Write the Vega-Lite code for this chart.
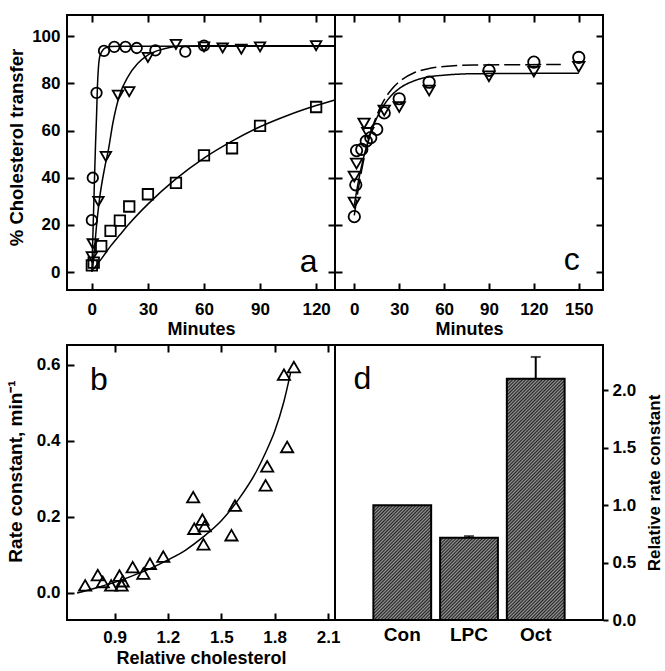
{
  "$schema": "https://vega.github.io/schema/vega-lite/v6.json",
  "background": "white",
  "padding": {"left": 5, "top": 13, "right": 5, "bottom": 5},
  "config": {
    "font": "Liberation Sans",
    "view": {"stroke": "black", "strokeWidth": 2},
    "axis": {"grid": false, "domain": false, "labelFont": "Liberation Sans", "labelFontSize": 17, "labelFontWeight": "bold", "labelColor": "black", "titleFont": "Liberation Sans", "titleFontSize": 18, "titleFontWeight": "bold", "titleColor": "black", "tickColor": "black", "tickWidth": 2, "labelFlush": false, "labelOverlap": false}
  },
  "datasets": {
    "aPts": [
      {"t": 0, "v": 22, "s": "A"}, {"t": 0.5, "v": 40, "s": "A"}, {"t": 2.5, "v": 76, "s": "A"}, {"t": 6.5, "v": 93.8, "s": "A"}, {"t": 12, "v": 95.5, "s": "A"}, {"t": 18, "v": 95.5, "s": "A"}, {"t": 24, "v": 95, "s": "A"}, {"t": 34, "v": 94, "s": "A"}, {"t": 50, "v": 93.5, "s": "A"}, {"t": 60, "v": 96, "s": "A"},
      {"t": 0, "v": 6.5, "s": "B"}, {"t": 0.5, "v": 12, "s": "B"}, {"t": 3.5, "v": 30, "s": "B"}, {"t": 7.5, "v": 49, "s": "B"}, {"t": 14, "v": 75, "s": "B"}, {"t": 20, "v": 76.5, "s": "B"}, {"t": 30, "v": 91, "s": "B"}, {"t": 45, "v": 96.5, "s": "B"}, {"t": 60, "v": 95.5, "s": "B"}, {"t": 70, "v": 95, "s": "B"}, {"t": 80, "v": 94.5, "s": "B"}, {"t": 90, "v": 95.5, "s": "B"}, {"t": 120, "v": 96, "s": "B"},
      {"t": 0, "v": 2.8, "s": "C"}, {"t": 1, "v": 4, "s": "C"}, {"t": 5, "v": 11, "s": "C"}, {"t": 10, "v": 17.5, "s": "C"}, {"t": 15, "v": 21.8, "s": "C"}, {"t": 20, "v": 27.8, "s": "C"}, {"t": 30, "v": 33, "s": "C"}, {"t": 45, "v": 37.8, "s": "C"}, {"t": 60, "v": 49.5, "s": "C"}, {"t": 75, "v": 52.5, "s": "C"}, {"t": 90, "v": 62, "s": "C"}, {"t": 120, "v": 70, "s": "C"}
    ],
    "aFit": [
      {"t": 0, "v": 0, "s": "A"}, {"t": 0.5, "v": 14, "s": "A"}, {"t": 1, "v": 28, "s": "A"}, {"t": 1.5, "v": 42, "s": "A"}, {"t": 2, "v": 55, "s": "A"}, {"t": 2.5, "v": 66, "s": "A"}, {"t": 3, "v": 79, "s": "A"}, {"t": 3.5, "v": 86.5, "s": "A"}, {"t": 4, "v": 90.5, "s": "A"}, {"t": 5, "v": 93, "s": "A"}, {"t": 6, "v": 94.3, "s": "A"}, {"t": 8, "v": 95.3, "s": "A"}, {"t": 10, "v": 95.6, "s": "A"}, {"t": 15, "v": 95.8, "s": "A"}, {"t": 130, "v": 95.8, "s": "A"},
      {"t": 0.5, "v": 2, "s": "B"}, {"t": 2.3, "v": 18, "s": "B"}, {"t": 4.1, "v": 31, "s": "B"}, {"t": 6.8, "v": 44, "s": "B"}, {"t": 8.9, "v": 52, "s": "B"}, {"t": 11.2, "v": 63, "s": "B"}, {"t": 14.8, "v": 75, "s": "B"}, {"t": 19.2, "v": 82.7, "s": "B"}, {"t": 24.5, "v": 88.4, "s": "B"}, {"t": 29.9, "v": 92, "s": "B"}, {"t": 38.8, "v": 94.7, "s": "B"}, {"t": 46, "v": 95.8, "s": "B"}, {"t": 60, "v": 96, "s": "B"}, {"t": 130, "v": 96, "s": "B"},
      {"t": 0, "v": 0.5, "s": "C"}, {"t": 5, "v": 5.5, "s": "C"}, {"t": 10, "v": 11, "s": "C"}, {"t": 15, "v": 15.8, "s": "C"}, {"t": 20, "v": 20.5, "s": "C"}, {"t": 30, "v": 28.8, "s": "C"}, {"t": 45, "v": 39.5, "s": "C"}, {"t": 60, "v": 48.3, "s": "C"}, {"t": 75, "v": 55.5, "s": "C"}, {"t": 90, "v": 61.6, "s": "C"}, {"t": 105, "v": 66.5, "s": "C"}, {"t": 120, "v": 70.6, "s": "C"}, {"t": 130, "v": 73, "s": "C"}
    ],
    "cPts": [
      {"t": 0, "v": 23.5, "s": "A"}, {"t": 1, "v": 37, "s": "A"}, {"t": 1.5, "v": 51.5, "s": "A"}, {"t": 5, "v": 52, "s": "A"}, {"t": 8, "v": 55.5, "s": "A"}, {"t": 11, "v": 57, "s": "A"}, {"t": 15, "v": 60.5, "s": "A"}, {"t": 20, "v": 67.5, "s": "A"}, {"t": 30, "v": 73.5, "s": "A"}, {"t": 50, "v": 80.5, "s": "A"}, {"t": 90, "v": 85.5, "s": "A"}, {"t": 120, "v": 89, "s": "A"}, {"t": 150, "v": 91, "s": "A"},
      {"t": 0, "v": 29.5, "s": "B"}, {"t": 0, "v": 40.5, "s": "B"}, {"t": 1.5, "v": 46, "s": "B"}, {"t": 6.5, "v": 63, "s": "B"}, {"t": 9, "v": 59, "s": "B"}, {"t": 20, "v": 68.5, "s": "B"}, {"t": 30, "v": 70, "s": "B"}, {"t": 50, "v": 77, "s": "B"}, {"t": 90, "v": 83, "s": "B"}, {"t": 120, "v": 85, "s": "B"}, {"t": 150, "v": 87, "s": "B"}
    ],
    "cFit": [
      {"t": 0, "v": 28.4, "s": "solid"}, {"t": 2, "v": 35.9, "s": "solid"}, {"t": 4, "v": 42.4, "s": "solid"}, {"t": 6, "v": 48, "s": "solid"}, {"t": 8, "v": 52.8, "s": "solid"}, {"t": 10, "v": 57, "s": "solid"}, {"t": 12, "v": 60.7, "s": "solid"}, {"t": 15, "v": 65.3, "s": "solid"}, {"t": 20, "v": 71, "s": "solid"}, {"t": 25, "v": 75, "s": "solid"}, {"t": 30, "v": 77.8, "s": "solid"}, {"t": 40, "v": 81.1, "s": "solid"}, {"t": 50, "v": 82.8, "s": "solid"}, {"t": 60, "v": 83.5, "s": "solid"}, {"t": 80, "v": 84.1, "s": "solid"}, {"t": 150, "v": 84.3, "s": "solid"},
      {"t": 0, "v": 24, "s": "dashed"}, {"t": 2, "v": 32.6, "s": "dashed"}, {"t": 4, "v": 40.1, "s": "dashed"}, {"t": 6, "v": 46.6, "s": "dashed"}, {"t": 8, "v": 52.2, "s": "dashed"}, {"t": 10, "v": 57, "s": "dashed"}, {"t": 12, "v": 61.2, "s": "dashed"}, {"t": 15, "v": 66.4, "s": "dashed"}, {"t": 20, "v": 73, "s": "dashed"}, {"t": 25, "v": 77.5, "s": "dashed"}, {"t": 30, "v": 80.7, "s": "dashed"}, {"t": 40, "v": 84.5, "s": "dashed"}, {"t": 50, "v": 86.3, "s": "dashed"}, {"t": 60, "v": 87.2, "s": "dashed"}, {"t": 80, "v": 87.8, "s": "dashed"}, {"t": 138, "v": 88, "s": "dashed"}
    ],
    "bPts": [
      {"x": 0.735, "k": 0.02}, {"x": 0.806, "k": 0.047}, {"x": 0.834, "k": 0.029}, {"x": 0.881, "k": 0.02}, {"x": 0.928, "k": 0.046}, {"x": 0.946, "k": 0.031}, {"x": 0.94, "k": 0.02}, {"x": 1.002, "k": 0.068}, {"x": 1.062, "k": 0.051}, {"x": 1.099, "k": 0.077}, {"x": 1.174, "k": 0.096}, {"x": 1.342, "k": 0.252}, {"x": 1.348, "k": 0.169}, {"x": 1.394, "k": 0.193}, {"x": 1.407, "k": 0.176}, {"x": 1.4, "k": 0.128}, {"x": 1.557, "k": 0.152}, {"x": 1.577, "k": 0.23}, {"x": 1.749, "k": 0.283}, {"x": 1.758, "k": 0.333}, {"x": 1.87, "k": 0.384}, {"x": 1.852, "k": 0.574}, {"x": 1.908, "k": 0.594}
    ],
    "bFit": [
      {"x": 0.69, "k": 0.0}, {"x": 0.8, "k": 0.014}, {"x": 0.9, "k": 0.028}, {"x": 1.0, "k": 0.045}, {"x": 1.1, "k": 0.064}, {"x": 1.2, "k": 0.087}, {"x": 1.3, "k": 0.113}, {"x": 1.4, "k": 0.148}, {"x": 1.5, "k": 0.19}, {"x": 1.6, "k": 0.248}, {"x": 1.7, "k": 0.322}, {"x": 1.75, "k": 0.37}, {"x": 1.8, "k": 0.425}, {"x": 1.85, "k": 0.5}, {"x": 1.89, "k": 0.58}
    ],
    "dBars": [
      {"cond": "Con", "rel": 1.0}, {"cond": "LPC", "rel": 0.715}, {"cond": "Oct", "rel": 2.1}
    ],
    "dErr": [
      {"cond": "LPC", "rel": 0.715, "hi": 0.73}, {"cond": "Oct", "rel": 2.1, "hi": 2.29}
    ]
  },
  "columns": 2,
  "bounds": "flush",
  "spacing": {"row": 55, "column": 0},
  "concat": [
    {
      "width": 268,
      "height": 275,
      "resolve": {"axis": {"x": "independent", "y": "independent"}},
      "layer": [
        {
          "data": {"name": "aPts"},
          "mark": {"type": "point", "filled": false, "color": "black", "strokeWidth": 1.8, "size": 110, "opacity": 1},
          "encoding": {
            "x": {"field": "t", "type": "quantitative", "scale": {"domain": [-13.3, 130.1], "nice": false, "zero": false}, "axis": {"orient": "bottom", "values": [0, 30, 60, 90, 120], "tickSize": -7, "labelPadding": 18, "title": "Minutes", "titlePadding": 3}},
            "y": {"field": "v", "type": "quantitative", "scale": {"domain": [-7.6, 109], "nice": false, "zero": false}, "axis": {"orient": "left", "values": [0, 20, 40, 60, 80, 100], "tickSize": -7, "labelPadding": 14, "title": "% Cholesterol transfer", "titleFontSize": 18.5, "titlePadding": 5, "titleY": 132}},
            "shape": {"field": "s", "type": "nominal", "scale": {"domain": ["A", "B", "C"], "range": ["circle", "triangle-down", "square"]}, "legend": null}
          }
        },
        {
          "data": {"name": "aFit"},
          "mark": {"type": "line", "color": "black", "strokeWidth": 1.5, "interpolate": "monotone", "clip": true},
          "encoding": {
            "x": {"field": "t", "type": "quantitative", "scale": {"domain": [-13.3, 130.1], "nice": false, "zero": false}, "axis": {"orient": "top", "values": [0, 30, 60, 90, 120], "tickSize": -7, "labels": false, "title": null}},
            "y": {"field": "v", "type": "quantitative", "scale": {"domain": [-7.6, 109], "nice": false, "zero": false}, "axis": {"orient": "right", "values": [0, 20, 40, 60, 80, 100], "tickSize": -7, "labels": false, "title": null}},
            "detail": {"field": "s", "type": "nominal"}
          }
        },
        {
          "data": {"values": [{"t": 116, "v": 0, "label": "a"}]},
          "mark": {"type": "text", "fontSize": 32, "font": "Liberation Sans", "baseline": "alphabetic", "align": "center", "color": "black"},
          "encoding": {
            "x": {"field": "t", "type": "quantitative", "scale": {"domain": [-13.3, 130.1], "nice": false, "zero": false}, "axis": null},
            "y": {"field": "v", "type": "quantitative", "scale": {"domain": [-7.6, 109], "nice": false, "zero": false}, "axis": null},
            "text": {"field": "label"}
          }
        }
      ]
    },
    {
      "width": 268,
      "height": 275,
      "resolve": {"axis": {"x": "independent", "y": "independent"}},
      "layer": [
        {
          "data": {"name": "cPts"},
          "mark": {"type": "point", "filled": false, "color": "black", "strokeWidth": 1.8, "size": 130, "opacity": 1},
          "encoding": {
            "x": {"field": "t", "type": "quantitative", "scale": {"domain": [-12.9, 166.2], "nice": false, "zero": false}, "axis": {"orient": "bottom", "values": [0, 30, 60, 90, 120, 150], "tickSize": -7, "labelPadding": 18, "title": "Minutes", "titlePadding": 3}},
            "y": {"field": "v", "type": "quantitative", "scale": {"domain": [-7.6, 109], "nice": false, "zero": false}, "axis": {"orient": "left", "values": [0, 20, 40, 60, 80, 100], "tickSize": -7, "labels": false, "title": null}},
            "shape": {"field": "s", "type": "nominal", "scale": {"domain": ["A", "B"], "range": ["circle", "triangle-down"]}, "legend": null}
          }
        },
        {
          "data": {"name": "cFit"},
          "mark": {"type": "line", "color": "black", "strokeWidth": 1.5, "interpolate": "monotone", "clip": true},
          "encoding": {
            "x": {"field": "t", "type": "quantitative", "scale": {"domain": [-12.9, 166.2], "nice": false, "zero": false}, "axis": {"orient": "top", "values": [0, 30, 60, 90, 120, 150], "tickSize": -7, "labels": false, "title": null}},
            "y": {"field": "v", "type": "quantitative", "scale": {"domain": [-7.6, 109], "nice": false, "zero": false}, "axis": {"orient": "right", "values": [0, 20, 40, 60, 80, 100], "tickSize": -7, "labels": false, "title": null}},
            "strokeDash": {"field": "s", "type": "nominal", "scale": {"domain": ["solid", "dashed"], "range": [[1, 0], [16, 5]]}, "legend": null}
          }
        },
        {
          "data": {"values": [{"t": 145.3, "v": 0.8, "label": "c"}]},
          "mark": {"type": "text", "fontSize": 32, "font": "Liberation Sans", "baseline": "alphabetic", "align": "center", "color": "black"},
          "encoding": {
            "x": {"field": "t", "type": "quantitative", "scale": {"domain": [-12.9, 166.2], "nice": false, "zero": false}, "axis": null},
            "y": {"field": "v", "type": "quantitative", "scale": {"domain": [-7.6, 109], "nice": false, "zero": false}, "axis": null},
            "text": {"field": "label"}
          }
        }
      ]
    },
    {
      "width": 268,
      "height": 275,
      "resolve": {"axis": {"x": "independent", "y": "independent"}},
      "layer": [
        {
          "data": {"name": "bPts"},
          "mark": {"type": "point", "filled": false, "color": "black", "strokeWidth": 1.8, "size": 150, "opacity": 1, "shape": "triangle-up"},
          "encoding": {
            "x": {"field": "x", "type": "quantitative", "scale": {"domain": [0.633, 2.139], "nice": false, "zero": false}, "axis": {"orient": "bottom", "values": [0.9, 1.2, 1.5, 1.8, 2.1], "format": ".1f", "tickSize": -7, "labelPadding": 16, "title": "Relative cholesterol", "titlePadding": 4}},
            "y": {"field": "k", "type": "quantitative", "scale": {"domain": [-0.071, 0.652], "nice": false, "zero": false}, "axis": {"orient": "left", "values": [0, 0.2, 0.4, 0.6], "format": ".1f", "tickSize": -7, "labelPadding": 14, "title": "Rate constant, min⁻¹", "titleFontSize": 19, "titlePadding": 11, "titleY": 126}}
          }
        },
        {
          "data": {"name": "bFit"},
          "mark": {"type": "line", "color": "black", "strokeWidth": 1.5, "interpolate": "monotone", "clip": true},
          "encoding": {
            "x": {"field": "x", "type": "quantitative", "scale": {"domain": [0.633, 2.139], "nice": false, "zero": false}, "axis": {"orient": "top", "values": [0.9, 1.2, 1.5, 1.8, 2.1], "tickSize": -7, "labels": false, "title": null}},
            "y": {"field": "k", "type": "quantitative", "scale": {"domain": [-0.071, 0.652], "nice": false, "zero": false}, "axis": null}
          }
        },
        {
          "data": {"values": [{"x": 0.812, "k": 0.533, "label": "b"}]},
          "mark": {"type": "text", "fontSize": 32, "font": "Liberation Sans", "baseline": "alphabetic", "align": "center", "color": "black"},
          "encoding": {
            "x": {"field": "x", "type": "quantitative", "scale": {"domain": [0.633, 2.139], "nice": false, "zero": false}, "axis": null},
            "y": {"field": "k", "type": "quantitative", "scale": {"domain": [-0.071, 0.652], "nice": false, "zero": false}, "axis": null},
            "text": {"field": "label"}
          }
        }
      ]
    },
    {
      "width": 268,
      "height": 275,
      "resolve": {"scale": {"x": "independent"}, "axis": {"x": "independent", "y": "independent"}},
      "layer": [
        {
          "layer": [
            {
              "data": {"name": "dBars"},
              "mark": {"type": "bar", "stroke": "black", "strokeWidth": 2},
              "encoding": {
                "x": {"field": "cond", "type": "nominal", "sort": null, "scale": {"domain": ["Con", "LPC", "Oct"], "paddingInner": 0.134, "paddingOuter": 0.575}, "axis": {"orient": "bottom", "ticks": false, "labelPadding": 5, "labelAngle": 0, "labelFontSize": 19, "title": null}},
                "y": {"field": "rel", "type": "quantitative", "scale": {"domain": [0, 2.394], "nice": false, "zero": false}, "axis": {"orient": "right", "values": [0, 0.5, 1, 1.5, 2], "format": ".1f", "tickSize": 5, "labelPadding": 4, "title": "Relative rate constant", "titleFontSize": 17, "titleAngle": 270, "titleBaseline": "top", "titlePadding": 11}},
                "fill": {
                  "condition": [
                    {"test": "datum.cond === 'Con'", "value": {"gradient": "linear", "x1": 0, "y1": 0, "x2": 1.153, "y2": 2.292, "stops": [
                      {"offset":0.00,"color":"#222"},{"offset":0.005,"color":"#999"},{"offset":0.01,"color":"#222"},{"offset":0.015,"color":"#999"},{"offset":0.02,"color":"#222"},{"offset":0.025,"color":"#999"},{"offset":0.03,"color":"#222"},{"offset":0.035,"color":"#999"},{"offset":0.04,"color":"#222"},{"offset":0.045,"color":"#999"},{"offset":0.05,"color":"#222"},{"offset":0.055,"color":"#999"},{"offset":0.06,"color":"#222"},{"offset":0.065,"color":"#999"},{"offset":0.07,"color":"#222"},{"offset":0.075,"color":"#999"},{"offset":0.08,"color":"#222"},{"offset":0.085,"color":"#999"},{"offset":0.09,"color":"#222"},{"offset":0.095,"color":"#999"},
                      {"offset":0.10,"color":"#222"},{"offset":0.105,"color":"#999"},{"offset":0.11,"color":"#222"},{"offset":0.115,"color":"#999"},{"offset":0.12,"color":"#222"},{"offset":0.125,"color":"#999"},{"offset":0.13,"color":"#222"},{"offset":0.135,"color":"#999"},{"offset":0.14,"color":"#222"},{"offset":0.145,"color":"#999"},{"offset":0.15,"color":"#222"},{"offset":0.155,"color":"#999"},{"offset":0.16,"color":"#222"},{"offset":0.165,"color":"#999"},{"offset":0.17,"color":"#222"},{"offset":0.175,"color":"#999"},{"offset":0.18,"color":"#222"},{"offset":0.185,"color":"#999"},{"offset":0.19,"color":"#222"},{"offset":0.195,"color":"#999"},
                      {"offset":0.20,"color":"#222"},{"offset":0.205,"color":"#999"},{"offset":0.21,"color":"#222"},{"offset":0.215,"color":"#999"},{"offset":0.22,"color":"#222"},{"offset":0.225,"color":"#999"},{"offset":0.23,"color":"#222"},{"offset":0.235,"color":"#999"},{"offset":0.24,"color":"#222"},{"offset":0.245,"color":"#999"},{"offset":0.25,"color":"#222"},{"offset":0.255,"color":"#999"},{"offset":0.26,"color":"#222"},{"offset":0.265,"color":"#999"},{"offset":0.27,"color":"#222"},{"offset":0.275,"color":"#999"},{"offset":0.28,"color":"#222"},{"offset":0.285,"color":"#999"},{"offset":0.29,"color":"#222"},{"offset":0.295,"color":"#999"},
                      {"offset":0.30,"color":"#222"},{"offset":0.305,"color":"#999"},{"offset":0.31,"color":"#222"},{"offset":0.315,"color":"#999"},{"offset":0.32,"color":"#222"},{"offset":0.325,"color":"#999"},{"offset":0.33,"color":"#222"},{"offset":0.335,"color":"#999"},{"offset":0.34,"color":"#222"},{"offset":0.345,"color":"#999"},{"offset":0.35,"color":"#222"},{"offset":0.355,"color":"#999"},{"offset":0.36,"color":"#222"},{"offset":0.365,"color":"#999"},{"offset":0.37,"color":"#222"},{"offset":0.375,"color":"#999"},{"offset":0.38,"color":"#222"},{"offset":0.385,"color":"#999"},{"offset":0.39,"color":"#222"},{"offset":0.395,"color":"#999"},
                      {"offset":0.40,"color":"#222"},{"offset":0.405,"color":"#999"},{"offset":0.41,"color":"#222"},{"offset":0.415,"color":"#999"},{"offset":0.42,"color":"#222"},{"offset":0.425,"color":"#999"},{"offset":0.43,"color":"#222"},{"offset":0.435,"color":"#999"},{"offset":0.44,"color":"#222"},{"offset":0.445,"color":"#999"},{"offset":0.45,"color":"#222"},{"offset":0.455,"color":"#999"},{"offset":0.46,"color":"#222"},{"offset":0.465,"color":"#999"},{"offset":0.47,"color":"#222"},{"offset":0.475,"color":"#999"},{"offset":0.48,"color":"#222"},{"offset":0.485,"color":"#999"},{"offset":0.49,"color":"#222"},{"offset":0.495,"color":"#999"},
                      {"offset":0.50,"color":"#222"},{"offset":0.505,"color":"#999"},{"offset":0.51,"color":"#222"},{"offset":0.515,"color":"#999"},{"offset":0.52,"color":"#222"},{"offset":0.525,"color":"#999"},{"offset":0.53,"color":"#222"}
                    ]}},
                    {"test": "datum.cond === 'LPC'", "value": {"gradient": "linear", "x1": 0, "y1": 0, "x2": 1.892, "y2": 2.688, "stops": [
                      {"offset":0.00,"color":"#222"},{"offset":0.005,"color":"#999"},{"offset":0.01,"color":"#222"},{"offset":0.015,"color":"#999"},{"offset":0.02,"color":"#222"},{"offset":0.025,"color":"#999"},{"offset":0.03,"color":"#222"},{"offset":0.035,"color":"#999"},{"offset":0.04,"color":"#222"},{"offset":0.045,"color":"#999"},{"offset":0.05,"color":"#222"},{"offset":0.055,"color":"#999"},{"offset":0.06,"color":"#222"},{"offset":0.065,"color":"#999"},{"offset":0.07,"color":"#222"},{"offset":0.075,"color":"#999"},{"offset":0.08,"color":"#222"},{"offset":0.085,"color":"#999"},{"offset":0.09,"color":"#222"},{"offset":0.095,"color":"#999"},
                      {"offset":0.10,"color":"#222"},{"offset":0.105,"color":"#999"},{"offset":0.11,"color":"#222"},{"offset":0.115,"color":"#999"},{"offset":0.12,"color":"#222"},{"offset":0.125,"color":"#999"},{"offset":0.13,"color":"#222"},{"offset":0.135,"color":"#999"},{"offset":0.14,"color":"#222"},{"offset":0.145,"color":"#999"},{"offset":0.15,"color":"#222"},{"offset":0.155,"color":"#999"},{"offset":0.16,"color":"#222"},{"offset":0.165,"color":"#999"},{"offset":0.17,"color":"#222"},{"offset":0.175,"color":"#999"},{"offset":0.18,"color":"#222"},{"offset":0.185,"color":"#999"},{"offset":0.19,"color":"#222"},{"offset":0.195,"color":"#999"},
                      {"offset":0.20,"color":"#222"},{"offset":0.205,"color":"#999"},{"offset":0.21,"color":"#222"},{"offset":0.215,"color":"#999"},{"offset":0.22,"color":"#222"},{"offset":0.225,"color":"#999"},{"offset":0.23,"color":"#222"},{"offset":0.235,"color":"#999"},{"offset":0.24,"color":"#222"},{"offset":0.245,"color":"#999"},{"offset":0.25,"color":"#222"},{"offset":0.255,"color":"#999"},{"offset":0.26,"color":"#222"},{"offset":0.265,"color":"#999"},{"offset":0.27,"color":"#222"},{"offset":0.275,"color":"#999"},{"offset":0.28,"color":"#222"},{"offset":0.285,"color":"#999"},{"offset":0.29,"color":"#222"},{"offset":0.295,"color":"#999"},
                      {"offset":0.30,"color":"#222"},{"offset":0.305,"color":"#999"},{"offset":0.31,"color":"#222"},{"offset":0.315,"color":"#999"},{"offset":0.32,"color":"#222"},{"offset":0.325,"color":"#999"},{"offset":0.33,"color":"#222"},{"offset":0.335,"color":"#999"},{"offset":0.34,"color":"#222"},{"offset":0.345,"color":"#999"},{"offset":0.35,"color":"#222"},{"offset":0.355,"color":"#999"},{"offset":0.36,"color":"#222"},{"offset":0.365,"color":"#999"},{"offset":0.37,"color":"#222"},{"offset":0.375,"color":"#999"},{"offset":0.38,"color":"#222"},{"offset":0.385,"color":"#999"},{"offset":0.39,"color":"#222"},{"offset":0.395,"color":"#999"},
                      {"offset":0.40,"color":"#222"},{"offset":0.405,"color":"#999"},{"offset":0.41,"color":"#222"},{"offset":0.415,"color":"#999"},{"offset":0.42,"color":"#222"},{"offset":0.425,"color":"#999"},{"offset":0.43,"color":"#222"},{"offset":0.435,"color":"#999"}
                    ]}}
                  ],
                  "value": {"gradient": "linear", "x1": 0, "y1": 0, "x2": 0.3101, "y2": 1.2939, "stops": [
                    {"offset":0.00,"color":"#222"},{"offset":0.005,"color":"#999"},{"offset":0.01,"color":"#222"},{"offset":0.015,"color":"#999"},{"offset":0.02,"color":"#222"},{"offset":0.025,"color":"#999"},{"offset":0.03,"color":"#222"},{"offset":0.035,"color":"#999"},{"offset":0.04,"color":"#222"},{"offset":0.045,"color":"#999"},{"offset":0.05,"color":"#222"},{"offset":0.055,"color":"#999"},{"offset":0.06,"color":"#222"},{"offset":0.065,"color":"#999"},{"offset":0.07,"color":"#222"},{"offset":0.075,"color":"#999"},{"offset":0.08,"color":"#222"},{"offset":0.085,"color":"#999"},{"offset":0.09,"color":"#222"},{"offset":0.095,"color":"#999"},
                    {"offset":0.10,"color":"#222"},{"offset":0.105,"color":"#999"},{"offset":0.11,"color":"#222"},{"offset":0.115,"color":"#999"},{"offset":0.12,"color":"#222"},{"offset":0.125,"color":"#999"},{"offset":0.13,"color":"#222"},{"offset":0.135,"color":"#999"},{"offset":0.14,"color":"#222"},{"offset":0.145,"color":"#999"},{"offset":0.15,"color":"#222"},{"offset":0.155,"color":"#999"},{"offset":0.16,"color":"#222"},{"offset":0.165,"color":"#999"},{"offset":0.17,"color":"#222"},{"offset":0.175,"color":"#999"},{"offset":0.18,"color":"#222"},{"offset":0.185,"color":"#999"},{"offset":0.19,"color":"#222"},{"offset":0.195,"color":"#999"},
                    {"offset":0.20,"color":"#222"},{"offset":0.205,"color":"#999"},{"offset":0.21,"color":"#222"},{"offset":0.215,"color":"#999"},{"offset":0.22,"color":"#222"},{"offset":0.225,"color":"#999"},{"offset":0.23,"color":"#222"},{"offset":0.235,"color":"#999"},{"offset":0.24,"color":"#222"},{"offset":0.245,"color":"#999"},{"offset":0.25,"color":"#222"},{"offset":0.255,"color":"#999"},{"offset":0.26,"color":"#222"},{"offset":0.265,"color":"#999"},{"offset":0.27,"color":"#222"},{"offset":0.275,"color":"#999"},{"offset":0.28,"color":"#222"},{"offset":0.285,"color":"#999"},{"offset":0.29,"color":"#222"},{"offset":0.295,"color":"#999"},
                    {"offset":0.30,"color":"#222"},{"offset":0.305,"color":"#999"},{"offset":0.31,"color":"#222"},{"offset":0.315,"color":"#999"},{"offset":0.32,"color":"#222"},{"offset":0.325,"color":"#999"},{"offset":0.33,"color":"#222"},{"offset":0.335,"color":"#999"},{"offset":0.34,"color":"#222"},{"offset":0.345,"color":"#999"},{"offset":0.35,"color":"#222"},{"offset":0.355,"color":"#999"},{"offset":0.36,"color":"#222"},{"offset":0.365,"color":"#999"},{"offset":0.37,"color":"#222"},{"offset":0.375,"color":"#999"},{"offset":0.38,"color":"#222"},{"offset":0.385,"color":"#999"},{"offset":0.39,"color":"#222"},{"offset":0.395,"color":"#999"},
                    {"offset":0.40,"color":"#222"},{"offset":0.405,"color":"#999"},{"offset":0.41,"color":"#222"},{"offset":0.415,"color":"#999"},{"offset":0.42,"color":"#222"},{"offset":0.425,"color":"#999"},{"offset":0.43,"color":"#222"},{"offset":0.435,"color":"#999"},{"offset":0.44,"color":"#222"},{"offset":0.445,"color":"#999"},{"offset":0.45,"color":"#222"},{"offset":0.455,"color":"#999"},{"offset":0.46,"color":"#222"},{"offset":0.465,"color":"#999"},{"offset":0.47,"color":"#222"},{"offset":0.475,"color":"#999"},{"offset":0.48,"color":"#222"},{"offset":0.485,"color":"#999"},{"offset":0.49,"color":"#222"},{"offset":0.495,"color":"#999"},
                    {"offset":0.50,"color":"#222"},{"offset":0.505,"color":"#999"},{"offset":0.51,"color":"#222"},{"offset":0.515,"color":"#999"},{"offset":0.52,"color":"#222"},{"offset":0.525,"color":"#999"},{"offset":0.53,"color":"#222"},{"offset":0.535,"color":"#999"},{"offset":0.54,"color":"#222"},{"offset":0.545,"color":"#999"},{"offset":0.55,"color":"#222"},{"offset":0.555,"color":"#999"},{"offset":0.56,"color":"#222"},{"offset":0.565,"color":"#999"},{"offset":0.57,"color":"#222"},{"offset":0.575,"color":"#999"},{"offset":0.58,"color":"#222"},{"offset":0.585,"color":"#999"},{"offset":0.59,"color":"#222"},{"offset":0.595,"color":"#999"},
                    {"offset":0.60,"color":"#222"},{"offset":0.605,"color":"#999"},{"offset":0.61,"color":"#222"},{"offset":0.615,"color":"#999"},{"offset":0.62,"color":"#222"},{"offset":0.625,"color":"#999"},{"offset":0.63,"color":"#222"},{"offset":0.635,"color":"#999"},{"offset":0.64,"color":"#222"},{"offset":0.645,"color":"#999"},{"offset":0.65,"color":"#222"},{"offset":0.655,"color":"#999"},{"offset":0.66,"color":"#222"},{"offset":0.665,"color":"#999"},{"offset":0.67,"color":"#222"},{"offset":0.675,"color":"#999"},{"offset":0.68,"color":"#222"},{"offset":0.685,"color":"#999"},{"offset":0.69,"color":"#222"},{"offset":0.695,"color":"#999"},
                    {"offset":0.70,"color":"#222"},{"offset":0.705,"color":"#999"},{"offset":0.71,"color":"#222"},{"offset":0.715,"color":"#999"},{"offset":0.72,"color":"#222"},{"offset":0.725,"color":"#999"},{"offset":0.73,"color":"#222"},{"offset":0.735,"color":"#999"},{"offset":0.74,"color":"#222"},{"offset":0.745,"color":"#999"},{"offset":0.75,"color":"#222"},{"offset":0.755,"color":"#999"},{"offset":0.76,"color":"#222"},{"offset":0.765,"color":"#999"},{"offset":0.77,"color":"#222"},{"offset":0.775,"color":"#999"},{"offset":0.78,"color":"#222"},{"offset":0.785,"color":"#999"},{"offset":0.79,"color":"#222"},{"offset":0.795,"color":"#999"},
                    {"offset":0.80,"color":"#222"},{"offset":0.805,"color":"#999"},{"offset":0.81,"color":"#222"},{"offset":0.815,"color":"#999"},{"offset":0.82,"color":"#222"},{"offset":0.825,"color":"#999"},{"offset":0.83,"color":"#222"},{"offset":0.835,"color":"#999"},{"offset":0.84,"color":"#222"},{"offset":0.845,"color":"#999"},{"offset":0.85,"color":"#222"},{"offset":0.855,"color":"#999"},{"offset":0.86,"color":"#222"},{"offset":0.865,"color":"#999"},{"offset":0.87,"color":"#222"},{"offset":0.875,"color":"#999"},{"offset":0.88,"color":"#222"},{"offset":0.885,"color":"#999"},{"offset":0.89,"color":"#222"},{"offset":0.895,"color":"#999"},
                    {"offset":0.90,"color":"#222"},{"offset":0.905,"color":"#999"},{"offset":0.91,"color":"#222"}
                  ]}
                }
              }
            },
            {
              "data": {"name": "dErr"},
              "mark": {"type": "rule", "color": "black", "strokeWidth": 2},
              "encoding": {
                "x": {"field": "cond", "type": "nominal", "sort": null, "scale": {"domain": ["Con", "LPC", "Oct"], "paddingInner": 0.134, "paddingOuter": 0.575}},
                "y": {"field": "rel", "type": "quantitative", "scale": {"domain": [0, 2.394], "nice": false, "zero": false}},
                "y2": {"field": "hi"}
              }
            },
            {
              "data": {"name": "dErr"},
              "mark": {"type": "tick", "color": "black", "thickness": 2, "size": 10, "orient": "horizontal"},
              "encoding": {
                "x": {"field": "cond", "type": "nominal", "sort": null, "scale": {"domain": ["Con", "LPC", "Oct"], "paddingInner": 0.134, "paddingOuter": 0.575}},
                "y": {"field": "hi", "type": "quantitative", "scale": {"domain": [0, 2.394], "nice": false, "zero": false}}
              }
            }
          ]
        },
        {
          "data": {"values": [{"px": 0.41, "py": 2.01, "label": "d"}]},
          "mark": {"type": "text", "fontSize": 32, "font": "Liberation Sans", "baseline": "alphabetic", "align": "center", "color": "black"},
          "encoding": {
            "x": {"field": "px", "type": "quantitative", "scale": {"domain": [0, 4], "nice": false, "zero": false}, "axis": null},
            "y": {"field": "py", "type": "quantitative", "scale": {"domain": [0, 2.394], "nice": false, "zero": false}, "axis": null},
            "text": {"field": "label"}
          }
        }
      ]
    }
  ]
}
